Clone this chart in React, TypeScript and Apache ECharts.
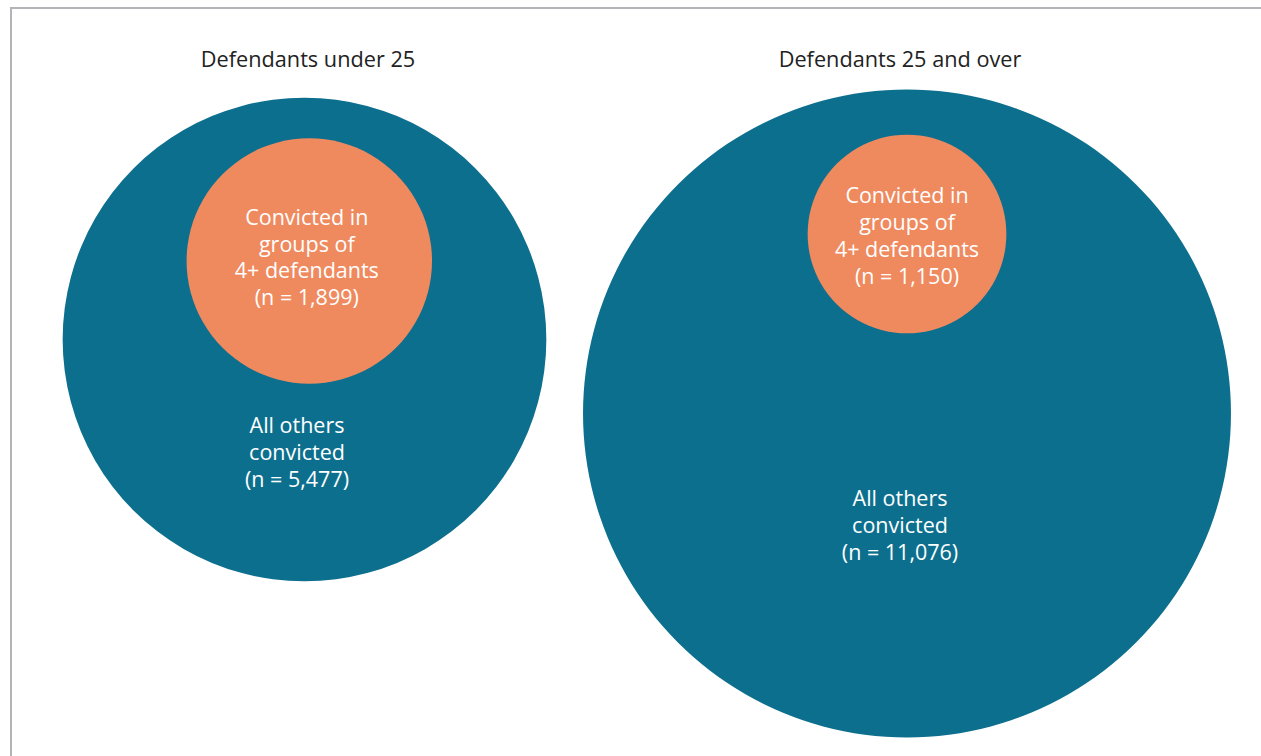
import React, { useEffect, useRef } from "react";
import * as echarts from "echarts";

// ---- data ----
const panelTitles = ["Defendants under 25", "Defendants 25 and over"];
const groupOf4Plus = [1899, 1150];
const allOthers = [5477, 11076];

// ---- layout (pixels) ----
const W = 1261;
const H = 756;
const outerCenterX = [304.5, 907];
const outerCenterY = [339.5, 413.5];
const innerCenterX = [309.3, 907];
const innerCenterY = [261, 234];
const radiusScale = [2.816, 2.93]; // px per sqrt(count), per panel
const innerLabelOffset = [
  [-2.5, -4.5],
  [0, 1],
];
const outerLabelOffset = [
  [-7.5, 112],
  [-7, 111],
];
const titleX = [308, 900];
const titleY = 58;

const TEAL = "#0d6f8e";
const ORANGE = "#ef8a5f";
const FONT = "'Open Sans', 'Noto Sans', sans-serif";

const fmt = (n: number) => n.toLocaleString("en-US");

export default function App() {
  const ref = useRef<HTMLDivElement>(null);

  useEffect(() => {
    if (!ref.current) return;
    const chart = echarts.init(ref.current, undefined, { renderer: "svg" });

    const outerData = panelTitles.map((_, i) => {
      const total = groupOf4Plus[i] + allOthers[i];
      return {
        value: [outerCenterX[i], outerCenterY[i], allOthers[i]],
        symbolSize: 2 * radiusScale[i] * Math.sqrt(total),
        label: {
          formatter: `All others\nconvicted\n(n = ${fmt(allOthers[i])})`,
          offset: outerLabelOffset[i],
        },
      };
    });
    const innerData = panelTitles.map((_, i) => ({
      value: [innerCenterX[i], innerCenterY[i], groupOf4Plus[i]],
      symbolSize: 2 * radiusScale[i] * Math.sqrt(groupOf4Plus[i]),
      label: {
        formatter: `Convicted in\ngroups of\n4+ defendants\n(n = ${fmt(groupOf4Plus[i])})`,
        offset: innerLabelOffset[i],
      },
    }));

    const labelBase = {
      show: true,
      position: "inside",
      color: "#ffffff",
      fontFamily: FONT,
      fontSize: 21.5,
      lineHeight: 26.7,
      align: "center",
    };

    chart.setOption({
      animation: false,
      backgroundColor: "#ffffff",
      grid: { left: 0, top: 0, width: W, height: H, containLabel: false },
      xAxis: { type: "value", min: 0, max: W, show: false },
      yAxis: { type: "value", min: 0, max: H, inverse: true, show: false },
      tooltip: { show: false },
      graphic: [
        {
          type: "line",
          shape: { x1: 10, y1: 8, x2: W, y2: 8 },
          style: { stroke: "#b4b4b8", lineWidth: 2 },
          silent: true,
        },
        {
          type: "line",
          shape: { x1: 11, y1: 8, x2: 11, y2: H },
          style: { stroke: "#b4b4b8", lineWidth: 2 },
          silent: true,
        },
        ...panelTitles.map((t, i) => ({
          type: "text",
          x: titleX[i],
          y: titleY,
          style: {
            text: t,
            fill: "#222222",
            font: `21.7px ${FONT}`,
            textAlign: "center",
            textVerticalAlign: "middle",
          },
          silent: true,
        })),
      ],
      series: [
        {
          name: "All others convicted",
          type: "scatter",
          symbol: "circle",
          data: outerData,
          itemStyle: { color: TEAL, opacity: 1 },
          label: { ...labelBase },
          emphasis: { disabled: true },
          z: 2,
        },
        {
          name: "Convicted in groups of 4+ defendants",
          type: "scatter",
          symbol: "circle",
          data: innerData,
          itemStyle: { color: ORANGE, opacity: 1 },
          label: { ...labelBase },
          emphasis: { disabled: true },
          z: 3,
        },
      ],
    });

    return () => chart.dispose();
  }, []);

  return (
    <div
      style={{
        position: "fixed",
        left: 0,
        top: 0,
        width: W,
        height: H,
        overflow: "hidden",
        background: "#ffffff",
      }}
    >
      <div ref={ref} style={{ width: W, height: H }} />
    </div>
  );
}
